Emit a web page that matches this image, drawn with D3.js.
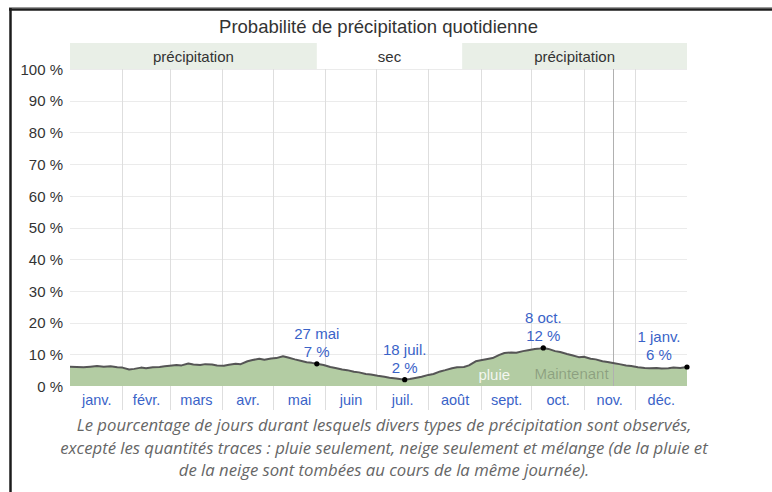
<!DOCTYPE html>
<html>
<head>
<meta charset="utf-8">
<script src="https://cdn.jsdelivr.net/npm/d3@7"></script>
<style>
  body { margin: 0; background: #fff; }
  svg { display: block; font-family: "Liberation Sans", Arial, sans-serif; }
</style>
</head>
<body>
<svg id="chart" width="772" height="492"></svg>
<script>
// Day of year (0 = 1 janv.) and daily chance of precipitation (%)
const dayIndex = [0, 4, 8, 12, 16, 20, 24, 28, 31,
  35, 38, 42, 45, 49, 53, 56,
  59, 63, 66, 70, 73, 77, 80, 84, 87, 91,
  94, 98, 101, 105, 108, 112, 115, 119, 122,
  126, 129, 133, 137, 140, 143, 146,
  150, 154, 157, 161, 164, 168, 171, 175, 178, 182, 186, 189, 193, 198,
  201, 205, 208, 212, 215, 219, 222, 226, 229, 233, 236, 240, 243, 247, 250, 254, 257, 261, 264, 268, 271, 275, 278, 280,
  283, 287, 290, 294, 297, 301, 304, 308, 311, 315, 318, 322, 325, 329, 332, 336, 340, 343, 347, 350, 354, 357, 361, 365];
const precipPct = [6.1, 6.0, 5.9, 6.1, 6.3, 6.1, 6.2, 5.9, 5.8,
  5.2, 5.4, 5.8, 5.6, 5.9, 6.0, 6.2,
  6.4, 6.6, 6.5, 7.1, 6.8, 6.6, 6.9, 6.8, 6.5, 6.4,
  6.7, 7.0, 6.9, 7.8, 8.2, 8.6, 8.3, 8.7, 8.8,
  9.4, 9.0, 8.4, 7.9, 7.5, 7.3, 7.0,
  6.6, 6.0, 5.7, 5.2, 5.0, 4.5, 4.3, 3.8, 3.6, 3.2, 2.9, 2.6, 2.4, 2.0,
  2.2, 2.6, 2.9, 3.5, 3.8, 4.6, 5.0, 5.6, 5.9, 6.0, 6.5, 7.8, 8.1, 8.5, 8.8, 9.8, 10.4, 10.6, 10.5, 11.0, 11.3, 11.7, 11.8, 12.0,
  11.7, 11.0, 10.7, 10.1, 9.7, 9.1, 9.2, 8.6, 8.4, 7.8, 7.6, 7.2, 6.9, 6.5, 6.3, 5.9, 5.7, 5.6, 5.7, 5.5, 5.6, 5.8, 5.7, 6.0];

// Month names and first day of each month
const monthNames = ["janv.", "févr.", "mars", "avr.", "mai", "juin", "juil.", "août", "sept.", "oct.", "nov.", "déc."];
const monthStarts = [0, 31, 59, 90, 120, 151, 181, 212, 243, 273, 304, 334, 365];

// Season bands above the plot
const seasonLabels = ["précipitation", "sec", "précipitation"];
const seasonStart = [0, 146, 232];
const seasonEnd = [146, 232, 365];
const seasonWet = [true, false, true];

// Highlighted days
const noteDays = [146, 198, 280, 365];
const noteDates = ["27 mai", "18 juil.", "8 oct.", "1 janv."];
const noteValues = [7, 2, 12, 6];

// Y ticks
const yTicks = [0, 10, 20, 30, 40, 50, 60, 70, 80, 90, 100];

// Current day marker
const nowDay = 321;

const captionLines = [
  "Le pourcentage de jours durant lesquels divers types de précipitation sont observés,",
  "excepté les quantités traces : pluie seulement, neige seulement et mélange (de la pluie et",
  "de la neige sont tombées au cours de la même journée)."
];

const svg = d3.select("#chart");
const plotL = 70, plotR = 687, plotT = 69, plotB = 386;

const x = d3.scaleLinear().domain([0, 365]).range([plotL, plotR]);
const y = d3.scaleLinear().domain([0, 100]).range([plotB, plotT]);

// frame
svg.append("line").attr("x1", 9).attr("x2", 772).attr("y1", 7.5).attr("y2", 7.5)
  .attr("stroke", "#9a9a9a").attr("stroke-width", 1);
svg.append("line").attr("x1", 9).attr("x2", 772).attr("y1", 9.5).attr("y2", 9.5)
  .attr("stroke", "#1c1c1c").attr("stroke-width", 2.5);
svg.append("line").attr("x1", 10.5).attr("x2", 10.5).attr("y1", 8).attr("y2", 492)
  .attr("stroke", "#1c1c1c").attr("stroke-width", 2.5);

// title
svg.append("text").attr("x", (plotL + plotR) / 2).attr("y", 33)
  .attr("text-anchor", "middle").attr("font-size", 18.5).attr("fill", "#333")
  .text("Probabilité de précipitation quotidienne");

// season bands
const bands = svg.append("g");
seasonLabels.forEach((lab, i) => {
  if (seasonWet[i]) {
    bands.append("rect")
      .attr("x", x(seasonStart[i])).attr("y", 43)
      .attr("width", x(seasonEnd[i]) - x(seasonStart[i])).attr("height", plotT - 43)
      .attr("fill", "#e9efe7");
  }
  bands.append("text")
    .attr("x", (x(seasonStart[i]) + x(seasonEnd[i])) / 2).attr("y", 62)
    .attr("text-anchor", "middle").attr("font-size", 15).attr("fill", "#333")
    .text(lab);
});

// horizontal grid
svg.append("g").selectAll("line").data(yTicks.filter(d => d > 0)).join("line")
  .attr("x1", plotL).attr("x2", plotR)
  .attr("y1", d => Math.round(y(d)) + 0.5).attr("y2", d => Math.round(y(d)) + 0.5)
  .attr("stroke", "#ebebeb").attr("stroke-width", 1);

// month grid
svg.append("g").selectAll("line").data(monthStarts.slice(1, 12)).join("line")
  .attr("x1", d => Math.round(x(d)) + 0.5).attr("x2", d => Math.round(x(d)) + 0.5)
  .attr("y1", plotT).attr("y2", 410)
  .attr("stroke", "#dedede").attr("stroke-width", 1);

// area + line
const area = d3.area().x((d, i) => x(dayIndex[i])).y0(y(0)).y1(d => y(d));
const line = d3.line().x((d, i) => x(dayIndex[i])).y(d => y(d));

svg.append("path").datum(precipPct).attr("d", area).attr("fill", "#b3cca3");

// now marker
svg.append("line")
  .attr("x1", Math.round(x(nowDay)) + 0.5).attr("x2", Math.round(x(nowDay)) + 0.5)
  .attr("y1", plotT).attr("y2", plotB)
  .attr("stroke", "#b0b0b0").attr("stroke-width", 1);
svg.append("text").attr("x", x(nowDay) - 4).attr("y", 379)
  .attr("text-anchor", "end").attr("font-size", 15).attr("fill", "#000").attr("fill-opacity", 0.22)
  .text("Maintenant");

svg.append("text").attr("x", x(251)).attr("y", 380)
  .attr("text-anchor", "middle").attr("font-size", 15).attr("fill", "#fff").attr("fill-opacity", 0.85)
  .text("pluie");

svg.append("path").datum(precipPct).attr("d", line)
  .attr("fill", "none").attr("stroke", "#555").attr("stroke-width", 2).attr("stroke-linejoin", "round");

// y axis
const yAxis = svg.append("g").attr("transform", `translate(${plotL - 4},0)`)
  .call(d3.axisLeft(y).tickValues(yTicks).tickSize(0).tickFormat(d => d + " %"));
yAxis.select(".domain").remove();
yAxis.selectAll("text").attr("font-size", 15).attr("fill", "#333")
  .attr("font-family", "Liberation Sans, Arial, sans-serif").attr("dy", "0.35em");

// month labels
const monthMid = monthNames.map((m, i) => (monthStarts[i] + monthStarts[i + 1]) / 2);
const xAxis = svg.append("g").attr("transform", `translate(0,${plotB + 3})`)
  .call(d3.axisBottom(x).tickValues(monthMid).tickSize(0)
    .tickFormat((d, i) => monthNames[i]));
xAxis.select(".domain").remove();
xAxis.selectAll("text").attr("font-size", 14.5).attr("fill", "#3a63c8")
  .attr("font-family", "Liberation Sans, Arial, sans-serif").attr("dy", "0.9em");

// highlighted days
const notes = svg.append("g");
noteDays.forEach((d, i) => {
  const px = x(d), py = y(noteValues[i]);
  notes.append("circle").attr("cx", px).attr("cy", py).attr("r", 2.6).attr("fill", "#000");
  const cx = Math.min(px, plotR - 28);
  notes.append("text").attr("x", cx).attr("y", py - 25)
    .attr("text-anchor", "middle").attr("font-size", 15).attr("fill", "#3a63c8")
    .text(noteDates[i]);
  notes.append("text").attr("x", cx).attr("y", py - 7)
    .attr("text-anchor", "middle").attr("font-size", 15).attr("fill", "#3a63c8")
    .text(noteValues[i] + " %");
});

// caption
svg.append("g").selectAll("text").data(captionLines).join("text")
  .attr("x", 384).attr("y", (d, i) => 431 + i * 22.5)
  .attr("text-anchor", "middle")
  .attr("font-family", "'Open Sans', sans-serif").attr("font-style", "italic")
  .attr("font-size", 16.7).attr("fill", "#666")
  .text(d => d);
</script>
</body>
</html>
